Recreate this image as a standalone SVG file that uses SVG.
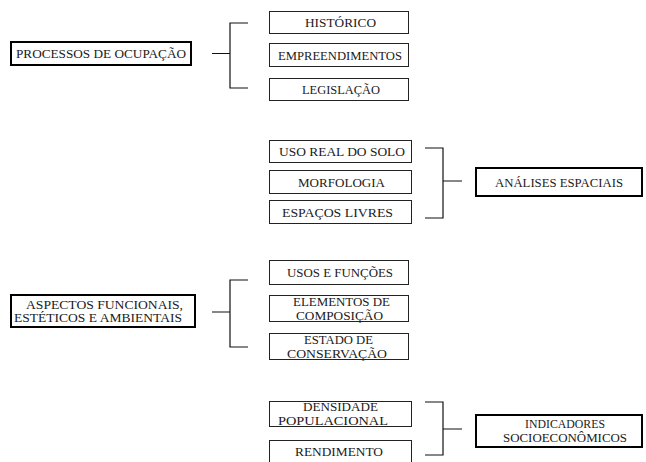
<svg xmlns="http://www.w3.org/2000/svg" width="646" height="462" viewBox="0 0 646 462" font-family="'Liberation Serif', 'DejaVu Serif', serif">
<style>
text{font-size:13px;fill:#1a1a1a;text-anchor:middle}
.two{font-size:11.5px}
.main{fill:#fff;stroke:#000;stroke-width:2}
.sub{fill:#fff;stroke:#222;stroke-width:1}
.con{fill:none;stroke:#111;stroke-width:1.2}
</style>
<rect width="646" height="462" fill="#fff"/>
<g id="connectors">
<path class="con" d="M212 53.5H230M248 23H230V88H248"/>
<path class="con" d="M425 148H443V218H425M443 181H462"/>
<path class="con" d="M212 312H230M248 280H230V347H248"/>
<path class="con" d="M425 402H443V455H425M443 429H462"/>
</g>
<g id="processos"><rect class="main" x="11" y="42" width="180" height="23"/><text x="101" y="58" textLength="170" lengthAdjust="spacingAndGlyphs">PROCESSOS DE OCUPAÇÃO</text></g>
<g id="historico"><rect class="sub" x="269.5" y="11.5" width="139" height="22"/><text x="340.5" y="27" textLength="71" lengthAdjust="spacingAndGlyphs">HISTÓRICO</text></g>
<g id="empreendimentos"><rect class="sub" x="269.5" y="43.5" width="139" height="23"/><text x="340" y="59.5" textLength="124" lengthAdjust="spacingAndGlyphs">EMPREENDIMENTOS</text></g>
<g id="legislacao"><rect class="sub" x="269.5" y="78.5" width="139" height="22"/><text x="341" y="94" textLength="78" lengthAdjust="spacingAndGlyphs">LEGISLAÇÃO</text></g>
<g id="uso-real"><rect class="sub" x="269.5" y="140.5" width="142" height="22"/><text x="342" y="156" textLength="126" lengthAdjust="spacingAndGlyphs">USO REAL DO SOLO</text></g>
<g id="morfologia"><rect class="sub" x="269.5" y="170.5" width="142" height="23"/><text x="341.5" y="186.5" textLength="87" lengthAdjust="spacingAndGlyphs">MORFOLOGIA</text></g>
<g id="espacos-livres"><rect class="sub" x="269.5" y="200.5" width="142" height="23"/><text x="337.5" y="216.5" textLength="111" lengthAdjust="spacingAndGlyphs">ESPAÇOS LIVRES</text></g>
<g id="analises"><rect class="main" x="476" y="168" width="166" height="28"/><text x="559" y="186.5" textLength="128" lengthAdjust="spacingAndGlyphs">ANÁLISES ESPACIAIS</text></g>
<g id="aspectos"><rect class="main" x="11" y="295" width="184" height="32"/><text class="two" x="104.5" y="308.5" textLength="157" lengthAdjust="spacingAndGlyphs">ASPECTOS FUNCIONAIS,</text><text class="two" x="98" y="321.5" textLength="168" lengthAdjust="spacingAndGlyphs">ESTÉTICOS E AMBIENTAIS</text></g>
<g id="usos-funcoes"><rect class="sub" x="269.5" y="260.5" width="139" height="24"/><text x="340" y="277" textLength="106" lengthAdjust="spacingAndGlyphs">USOS E FUNÇÕES</text></g>
<g id="elementos"><rect class="sub" x="269.5" y="295.5" width="139" height="26"/><text class="two" x="341.5" y="306" textLength="97" lengthAdjust="spacingAndGlyphs">ELEMENTOS DE</text><text class="two" x="339.5" y="319.5" textLength="87" lengthAdjust="spacingAndGlyphs">COMPOSIÇÃO</text></g>
<g id="estado"><rect class="sub" x="269.5" y="333.5" width="139" height="26"/><text class="two" x="338.5" y="344" textLength="69" lengthAdjust="spacingAndGlyphs">ESTADO DE</text><text class="two" x="337" y="357.5" textLength="100" lengthAdjust="spacingAndGlyphs">CONSERVAÇÃO</text></g>
<g id="densidade"><rect class="sub" x="269.5" y="401.5" width="142" height="25"/><text class="two" x="340.5" y="411" textLength="75" lengthAdjust="spacingAndGlyphs">DENSIDADE</text><text class="two" x="333" y="424.5" textLength="110" lengthAdjust="spacingAndGlyphs">POPULACIONAL</text></g>
<g id="rendimento"><rect class="sub" x="269.5" y="440.5" width="142" height="26"/><text x="339" y="456" textLength="88" lengthAdjust="spacingAndGlyphs">RENDIMENTO</text></g>
<g id="indicadores"><rect class="main" x="476" y="415" width="166" height="32"/><text class="two" x="565" y="428" textLength="80" lengthAdjust="spacingAndGlyphs">INDICADORES</text><text class="two" x="565" y="441.5" textLength="124" lengthAdjust="spacingAndGlyphs">SOCIOECONÔMICOS</text></g>
</svg>
